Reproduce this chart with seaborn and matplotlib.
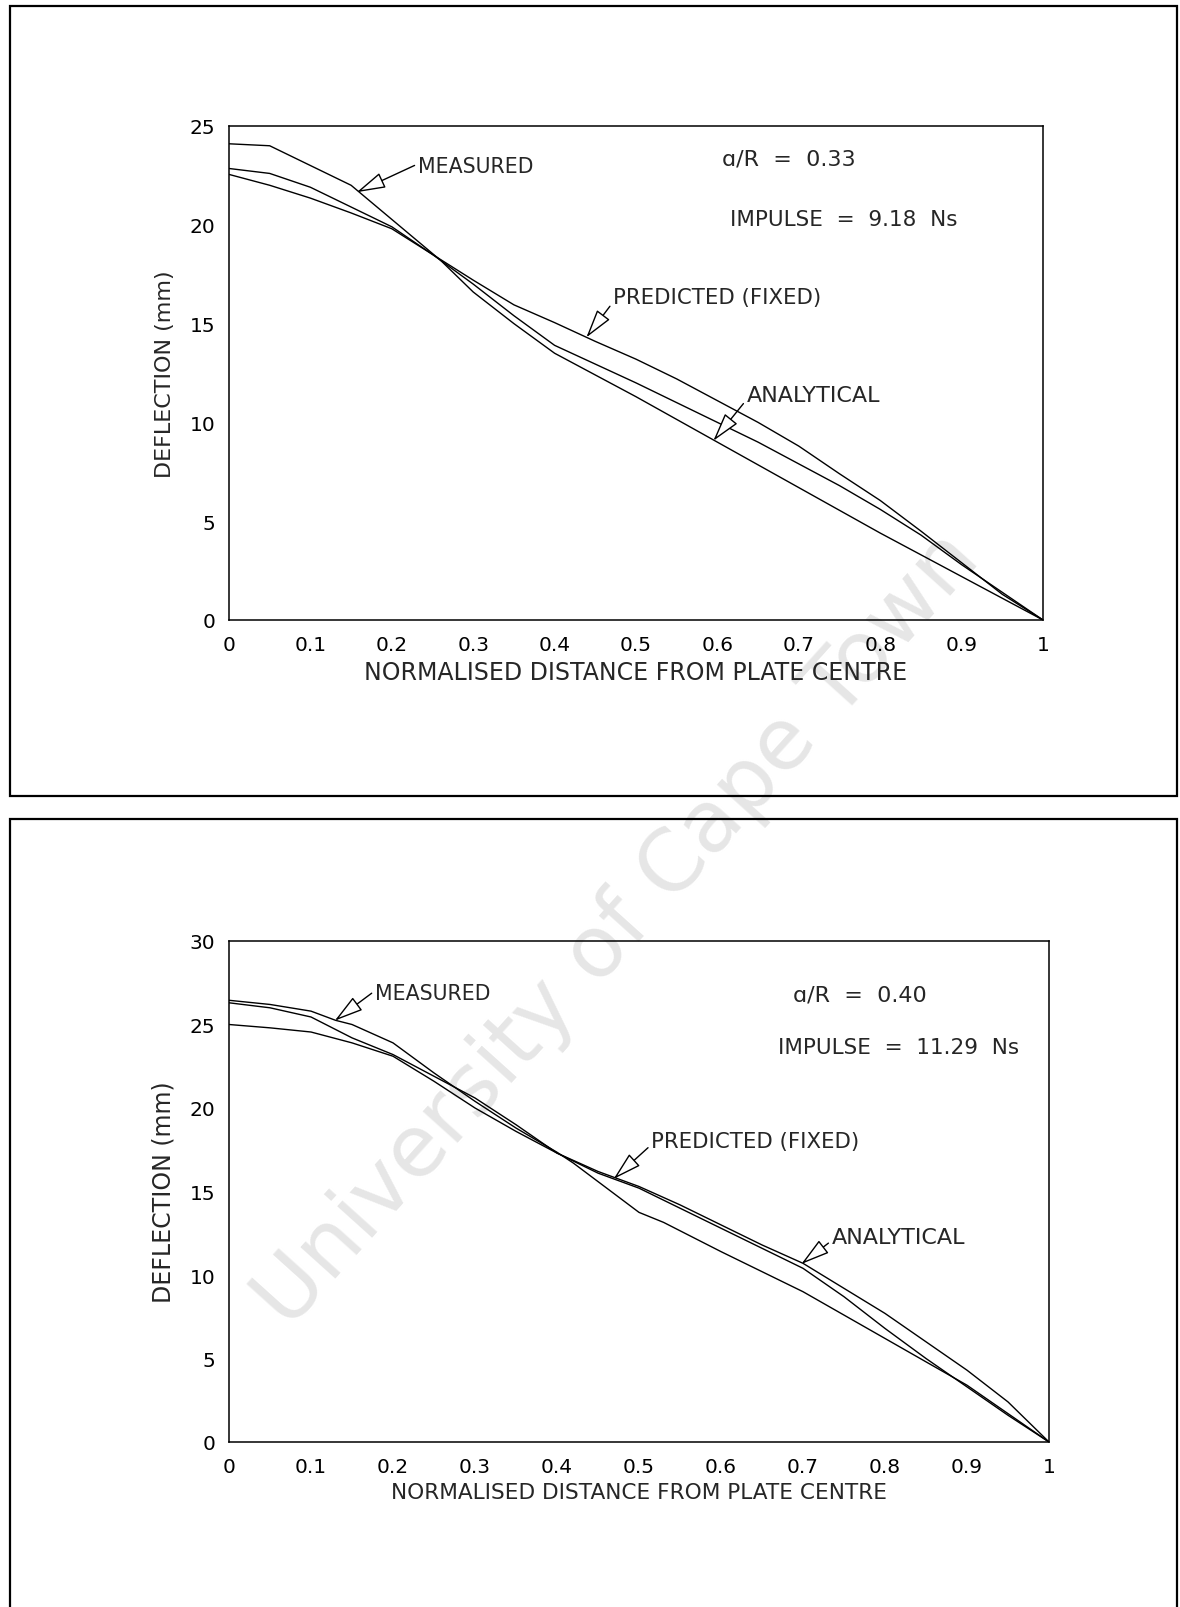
import matplotlib
matplotlib.use("Agg")
import matplotlib.pyplot as plt
import matplotlib.patches as mpatches
from matplotlib.ticker import FixedLocator
import seaborn as sns
import pandas as pd

# ---------------- data ----------------
X_GRID = [0.0, 0.05, 0.1, 0.15, 0.2, 0.25, 0.3, 0.35, 0.4, 0.45, 0.5,
          0.55, 0.6, 0.65, 0.7, 0.75, 0.8, 0.85, 0.9, 0.95, 1.0]

# panel 1 : a/R = 0.33, impulse 9.18 Ns
top_pred = [22.85, 22.6, 21.9, 20.9, 19.9, 18.5, 17.2, 15.95, 15.05, 14.1, 13.2,
            12.2, 11.1, 10.0, 8.8, 7.4, 6.05, 4.5, 2.9, 1.3, 0.0]
top_anal = [22.55, 22.0, 21.35, 20.6, 19.8, 18.5, 17.0, 15.4, 13.9, 12.95, 12.0,
            11.0, 10.0, 9.0, 7.9, 6.8, 5.6, 4.3, 2.8, 1.4, 0.0]
top_meas_x = [0.0, 0.05, 0.15, 0.26, 0.3, 0.35, 0.4, 0.5, 0.6, 0.7, 0.8, 0.9, 1.0]
top_meas_y = [24.1, 24.0, 22.0, 18.2, 16.6, 15.0, 13.5, 11.3, 9.0, 6.7, 4.4, 2.2, 0.0]

# panel 2 : a/R = 0.40, impulse 11.29 Ns
bot_pred = [26.3, 26.0, 25.45, 24.2, 23.2, 21.9, 20.6, 19.0, 17.3, 16.2, 15.3,
            14.2, 13.0, 11.8, 10.7, 9.2, 7.7, 6.0, 4.3, 2.4, 0.0]
bot_anal = [25.0, 24.8, 24.55, 23.9, 23.1, 21.6, 20.0, 18.6, 17.3, 16.1, 15.2,
            14.0, 12.8, 11.6, 10.4, 8.7, 6.8, 5.0, 3.3, 1.6, 0.0]
bot_meas_x = [0.0, 0.05, 0.1, 0.13, 0.15, 0.2, 0.25, 0.3, 0.35, 0.4, 0.42, 0.5,
              0.53, 0.6, 0.7, 0.8, 0.9, 0.95, 1.0]
bot_meas_y = [26.45, 26.2, 25.8, 25.25, 25.0, 23.9, 22.1, 20.4, 18.8, 17.35, 16.7,
              13.75, 13.15, 11.4, 9.0, 6.2, 3.4, 1.7, 0.0]

X_TICKS = [0.0, 0.1, 0.2, 0.3, 0.4, 0.5, 0.6, 0.7, 0.8, 0.9, 1.0]
X_TICK_LABELS = ["0", "0.1", "0.2", "0.3", "0.4", "0.5", "0.6", "0.7", "0.8", "0.9", "1"]
TOP_Y_TICKS = [0, 5, 10, 15, 20, 25]
BOT_Y_TICKS = [0, 5, 10, 15, 20, 25, 30]

X_LABEL = "NORMALISED DISTANCE FROM PLATE CENTRE"
Y_LABEL = "DEFLECTION (mm)"

# ---------------- style ----------------
sns.set_style("white")
plt.rcParams["font.family"] = ["DejaVu Sans"]
plt.rcParams["axes.linewidth"] = 1.1

W, H = 1180, 1608
fig = plt.figure(figsize=(W / 100, H / 100), dpi=100)
fig.patch.set_facecolor("white")


def px_axes(left, top, right, bottom):
    return fig.add_axes([left / W, (H - bottom) / H, (right - left) / W, (bottom - top) / H])


def make_df(xs, ys, name):
    return pd.DataFrame({"x": xs, "y": ys, "series": name})


def draw_panel(ax, pred, anal, mx, my, ymax, yticks, xlabel_size, ylabel_size):
    df = pd.concat([make_df(X_GRID, pred, "PREDICTED (FIXED)"),
                    make_df(X_GRID, anal, "ANALYTICAL"),
                    make_df(mx, my, "MEASURED")], ignore_index=True)
    sns.lineplot(data=df, x="x", y="y", hue="series", palette=["black"] * 3,
                 sort=False, estimator=None, linewidth=1.0, legend=False, ax=ax)
    ax.set_facecolor("none")
    ax.set_xlim(0, 1)
    ax.set_ylim(0, ymax)
    ax.xaxis.set_major_locator(FixedLocator(X_TICKS))
    ax.set_xticklabels(X_TICK_LABELS)
    ax.yaxis.set_major_locator(FixedLocator(yticks))
    ax.tick_params(axis="both", direction="out", length=6, width=1.0,
                   labelsize=14.5, colors="black", pad=4)
    ax.tick_params(axis="x", pad=5)
    for s in ax.spines.values():
        s.set_color("black")
        s.set_linewidth(1.1)
    ax.set_xlabel(X_LABEL, fontsize=xlabel_size, labelpad=4)
    ax.set_ylabel(Y_LABEL, fontsize=ylabel_size, labelpad=10)


def arrow(ax, text, tip, textpos, relpos=(0.0, 0.5), size=15.3):
    ax.annotate(text, xy=tip, xytext=textpos, xycoords="data", textcoords="data",
                ha="left", va="center", fontsize=size,
                arrowprops=dict(arrowstyle="-|>,head_length=1.0,head_width=0.28",
                                mutation_scale=18, fc="white", ec="black", lw=1.0,
                                shrinkA=0, shrinkB=0, relpos=relpos))


# ---------- top panel ----------
ax1 = px_axes(229, 127, 1043, 621)
draw_panel(ax1, top_pred, top_anal, top_meas_x, top_meas_y, 25, TOP_Y_TICKS, 17, 16)
arrow(ax1, "MEASURED", (0.157, 21.65), (0.232, 22.98), relpos=(0.0, 0.6), size=14.8)
arrow(ax1, "PREDICTED (FIXED)", (0.439, 14.3), (0.472, 16.35), relpos=(0.0, 0.25))
arrow(ax1, "ANALYTICAL", (0.595, 9.07), (0.636, 11.41), relpos=(0.0, 0.25), size=16)
ax1.text(0.606, 23.33, "\u0251/R  =  0.33", fontsize=16, ha="left", va="center")
ax1.text(0.616, 20.29, "IMPULSE  =  9.18  Ns", fontsize=15.5, ha="left", va="center")

# ---------- bottom panel ----------
ax2 = px_axes(229, 942, 1049, 1443)
draw_panel(ax2, bot_pred, bot_anal, bot_meas_x, bot_meas_y, 30, BOT_Y_TICKS, 15.6, 17)
arrow(ax2, "MEASURED", (0.129, 25.23), (0.178, 26.9), relpos=(0.0, 0.6), size=14.8)
arrow(ax2, "PREDICTED (FIXED)", (0.469, 15.75), (0.515, 18.04), relpos=(0.0, 0.3))
arrow(ax2, "ANALYTICAL", (0.698, 10.66), (0.735, 12.3), relpos=(0.0, 0.3), size=16)
ax2.text(0.688, 26.77, "\u0251/R  =  0.40", fontsize=16, ha="left", va="center")
ax2.text(0.67, 23.65, "IMPULSE  =  11.29  Ns", fontsize=15.5, ha="left", va="center")

# ---------- page frames ----------
def frame(left, top, right, bottom):
    fig.patches.append(mpatches.Rectangle((left / W, (H - bottom) / H),
                                          (right - left) / W, (bottom - top) / H,
                                          transform=fig.transFigure, fill=False,
                                          ec="black", lw=1.6, zorder=5))

frame(10, 7, 1177, 797)
frame(10, 820, 1177, 1640)

# ---------- watermark ----------
fig.text(618 / W, (H - 930) / H, "University of Cape Town", rotation=48,
         fontsize=62, color="#e6e6e6", ha="center", va="center", zorder=-1)

fig.savefig("out.png", dpi=100, facecolor="white")
